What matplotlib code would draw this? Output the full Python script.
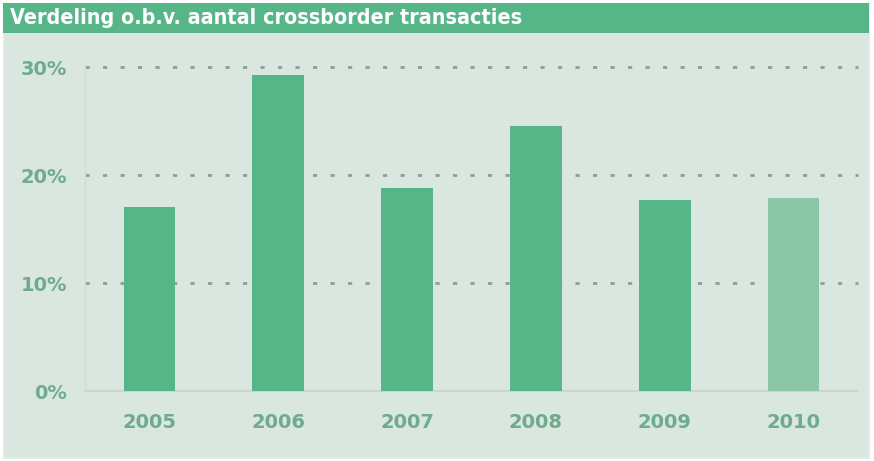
import matplotlib
matplotlib.use('Agg')
import matplotlib.pyplot as plt
from matplotlib.patches import Rectangle

years = ['2005', '2006', '2007', '2008', '2009', '2010']
shares = [17.0, 29.3, 18.8, 24.5, 17.7, 17.9]
yticks = [0, 10, 20, 30]
ytick_labels = ['0%', '10%', '20%', '30%']
title = 'Verdeling o.b.v. aantal crossborder transacties'

bg = '#dae7e1'
green = '#57b688'
light_green = '#8bc6a6'
text_green = '#6fab8c'

fig = plt.figure(figsize=(8.74, 4.61), dpi=100)
fig.patch.set_facecolor('white')

# panel background and title band
fig.patches.append(Rectangle((3/874, 3/461), 866/874, 455/461, transform=fig.transFigure,
                             facecolor=bg, edgecolor='#e6eeea', lw=1, zorder=0))
fig.patches.append(Rectangle((3/874, 428/461), 866/874, 30/461, transform=fig.transFigure,
                             facecolor=green, edgecolor='none', zorder=1))
fig.text(10/874, 443/461, title, color='white', fontsize=15.4, fontweight='bold',
         va='center', ha='left', family='DejaVu Sans', fontstretch='condensed', zorder=2)

ax = fig.add_axes([85/874, 70/461, 773/874, 324/461])
ax.set_zorder(3)
ax.set_facecolor('none')
colors = [green] * (len(years) - 1) + [light_green]
x = range(len(years))
ax.bar(x, shares, width=0.4, color=colors, zorder=3)

ax.set_xlim(-0.5, len(years) - 0.5)
ax.set_ylim(0, 30)
ax.set_yticks(yticks)
ax.set_yticklabels(ytick_labels)
ax.set_xticks(list(x))
ax.set_xticklabels(years)

for y in yticks[1:]:
    ax.axhline(y, color='#909c96', lw=2, linestyle=(0, (1.5, 4.8)), zorder=1, clip_on=False)

for s in ['top', 'right']:
    ax.spines[s].set_visible(False)
ax.spines['left'].set_color('#cfdcd5')
ax.spines['bottom'].set_color('#c5d3cc')
ax.spines['bottom'].set_linewidth(1.2)

ax.tick_params(axis='both', length=0, colors=text_green)
ax.tick_params(axis='y', pad=13)
ax.tick_params(axis='x', pad=16)
for lbl in ax.get_xticklabels() + ax.get_yticklabels():
    lbl.set_fontsize(14)
    lbl.set_fontweight('bold')
    lbl.set_color(text_green)

fig.savefig('out.png', dpi=100)
